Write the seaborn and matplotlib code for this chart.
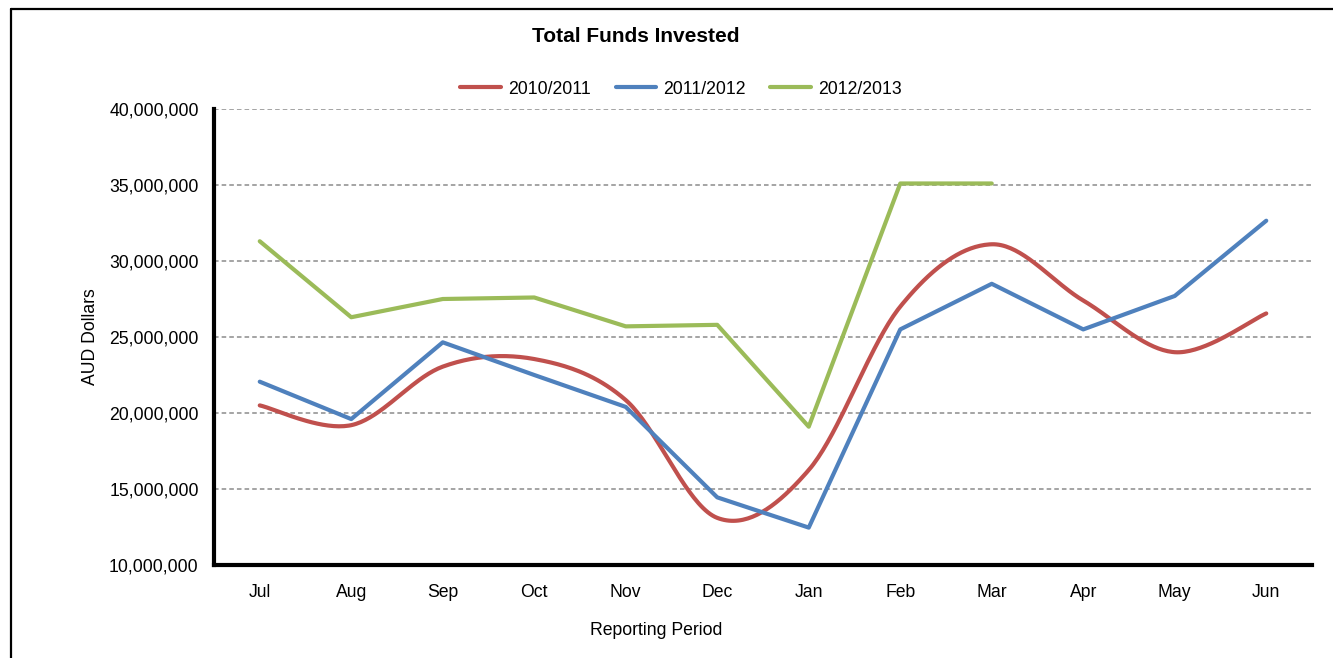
import numpy as np
import pandas as pd
import matplotlib
matplotlib.use("Agg")
import matplotlib.pyplot as plt
from matplotlib.ticker import FuncFormatter, FixedLocator
from matplotlib.lines import Line2D
import seaborn as sns

months = ["Jul", "Aug", "Sep", "Oct", "Nov", "Dec", "Jan", "Feb", "Mar", "Apr", "May", "Jun"]
fy_2010_2011 = [20.5e6, 19.2e6, 23.05e6, 23.55e6, 20.85e6, 13.1e6, 16.25e6, 27.0e6, 31.1e6, 27.4e6, 24.0e6, 26.55e6]
fy_2011_2012 = [22.06e6, 19.6e6, 24.65e6, 22.5e6, 20.4e6, 14.45e6, 12.46e6, 25.5e6, 28.5e6, 25.5e6, 27.7e6, 32.65e6]
fy_2012_2013 = [31.3e6, 26.3e6, 27.5e6, 27.6e6, 25.7e6, 25.8e6, 19.1e6, 35.1e6, 35.1e6, np.nan, np.nan, np.nan]
series_names = ["2010/2011", "2011/2012", "2012/2013"]
colors = ["#C0504D", "#4F81BD", "#9BBB59"]

sns.set_style("white")
plt.rcParams["font.family"] = ["Liberation Sans", "DejaVu Sans"]
plt.rcParams["text.color"] = "black"
plt.rcParams["axes.labelcolor"] = "black"
plt.rcParams["xtick.color"] = "black"
plt.rcParams["ytick.color"] = "black"

FS = 12.7


def smooth(xs, ys, n=40):
    xs = np.asarray(xs, float)
    ys = np.asarray(ys, float)
    P = np.column_stack([xs, ys])
    out = []
    for i in range(len(P) - 1):
        p0 = P[i - 1] if i > 0 else P[i]
        p1 = P[i]
        p2 = P[i + 1]
        p3 = P[i + 2] if i + 2 < len(P) else P[i + 1]
        c1 = p1 + (p2 - p0) / 6.0
        c2 = p2 - (p3 - p1) / 6.0
        t = np.linspace(0, 1, n)[:, None]
        seg = (1 - t) ** 3 * p1 + 3 * (1 - t) ** 2 * t * c1 + 3 * (1 - t) * t ** 2 * c2 + t ** 3 * p2
        out.append(seg if i == 0 else seg[1:])
    out = np.vstack(out)
    return out[:, 0], out[:, 1]


fig = plt.figure(figsize=(13.33, 6.58), dpi=100)
ax = fig.add_axes([214 / 1333, 1 - 565 / 658, (1312 - 214) / 1333, (565 - 109) / 658])

xpos = np.arange(len(months))
sx, sy = smooth(xpos, fy_2010_2011)
lw = 3.0
sns.lineplot(x=sx, y=sy, ax=ax, color=colors[0], lw=lw, sort=False, label=series_names[0],
             solid_capstyle="round")
sns.lineplot(x=xpos, y=fy_2011_2012, ax=ax, color=colors[1], lw=lw, sort=False, label=series_names[1],
             solid_capstyle="round")
g = np.asarray(fy_2012_2013)
mask = ~np.isnan(g)
sns.lineplot(x=xpos[mask], y=g[mask], ax=ax, color=colors[2], lw=lw, sort=False, label=series_names[2],
             solid_capstyle="round")

ax.set_xlim(-0.5, 11.5)
ax.set_ylim(10e6, 40e6)
ax.set_yticks(np.arange(10e6, 40e6 + 1, 5e6))
ax.yaxis.set_major_formatter(FuncFormatter(lambda v, p: f"{v:,.0f}"))
ax.set_xticks(xpos)
ax.set_xticklabels(months)
ax.xaxis.set_minor_locator(FixedLocator(np.arange(-0.5, 12, 1)))
ax.tick_params(axis="x", which="major", length=0, pad=14, labelsize=FS)
ax.tick_params(axis="x", which="minor", length=6, width=2, direction="out", color="black")
ax.tick_params(axis="y", which="major", length=6, width=2, direction="out", color="black", labelsize=FS, pad=5)

for yv in np.arange(15e6, 40e6 + 1, 5e6):
    ax.axhline(yv, color="#8c8c8c", lw=1.1, ls=(0, (3, 2)), zorder=0)

for s in ["top", "right"]:
    ax.spines[s].set_visible(False)
for s in ["left", "bottom"]:
    ax.spines[s].set_color("black")
    ax.spines[s].set_linewidth(3)

ax.set_ylabel("AUD Dollars", fontsize=FS, labelpad=7)
ax.set_xlabel("Reporting Period", fontsize=FS, labelpad=14)
ax.xaxis.set_label_coords((656 - 214) / 1098, -0.125)

handles, labels = ax.get_legend_handles_labels()
ax.get_legend().remove()
fig.legend(handles, labels, loc="center", bbox_to_anchor=(681 / 1333, 1 - 89 / 658), ncol=3,
           frameon=False, fontsize=FS, handlelength=2.3, handletextpad=0.4, columnspacing=1.4)

fig.text(636 / 1333, 1 - 36 / 658, "Total Funds Invested", ha="center", va="center",
         fontsize=15, fontweight="bold")

fig.add_artist(Line2D([11 / 1333, 1.01], [1 - 9 / 658, 1 - 9 / 658], transform=fig.transFigure,
                      color="black", lw=1.6))
fig.add_artist(Line2D([11 / 1333, 11 / 1333], [1 - 9 / 658, -0.01], transform=fig.transFigure,
                      color="black", lw=1.6))

fig.savefig("out.png", dpi=100)
